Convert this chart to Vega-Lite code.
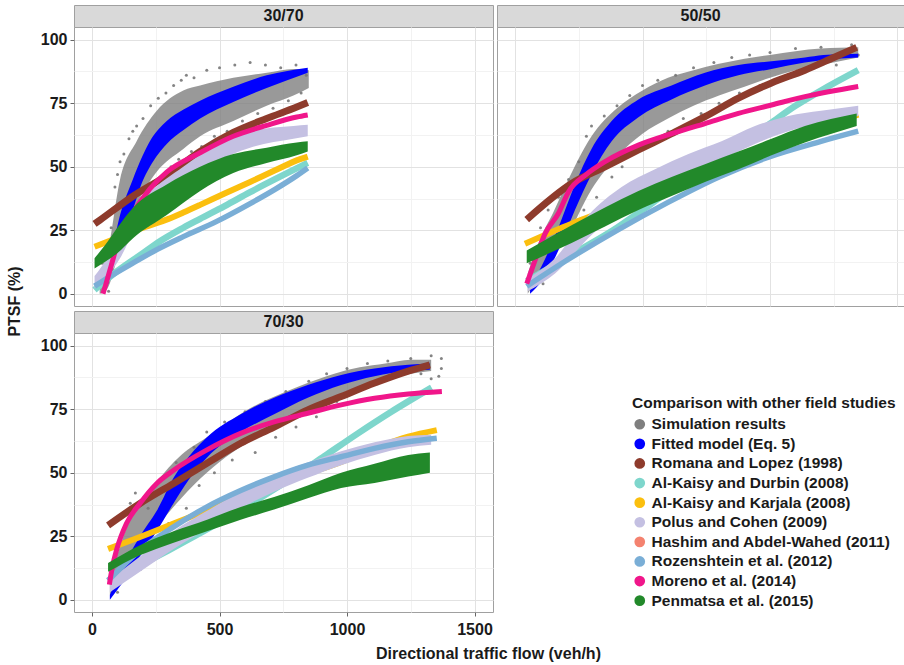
{
"$schema": "https://vega.github.io/schema/vega-lite/v6.json",
"background": "white",
"padding": {"left": 5, "top": 4, "right": 0, "bottom": 0},
"bounds": "flush",
"columns": 2,
"spacing": {"row": 0, "column": 4},
"datasets": {
"A": [
{"p":"30/70","s":"Simulation results","x":30,"lo":0,"hi":8},
{"p":"30/70","s":"Simulation results","x":60,"lo":2,"hi":16},
{"p":"30/70","s":"Simulation results","x":110,"lo":18,"hi":45},
{"p":"30/70","s":"Simulation results","x":175,"lo":35,"hi":60},
{"p":"30/70","s":"Simulation results","x":254,"lo":48,"hi":72},
{"p":"30/70","s":"Simulation results","x":358,"lo":57,"hi":80},
{"p":"30/70","s":"Simulation results","x":424,"lo":62,"hi":82},
{"p":"30/70","s":"Simulation results","x":554,"lo":68,"hi":85},
{"p":"30/70","s":"Simulation results","x":685,"lo":74,"hi":87},
{"p":"30/70","s":"Simulation results","x":790,"lo":78,"hi":88.5},
{"p":"30/70","s":"Simulation results","x":850,"lo":81,"hi":88},
{"p":"30/70","s":"Fitted model (Eq. 5)","x":43,"lo":0,"hi":2},
{"p":"30/70","s":"Fitted model (Eq. 5)","x":60,"lo":3,"hi":10},
{"p":"30/70","s":"Fitted model (Eq. 5)","x":76,"lo":8,"hi":16},
{"p":"30/70","s":"Fitted model (Eq. 5)","x":110,"lo":20,"hi":31},
{"p":"30/70","s":"Fitted model (Eq. 5)","x":160,"lo":33,"hi":45},
{"p":"30/70","s":"Fitted model (Eq. 5)","x":197,"lo":44,"hi":54},
{"p":"30/70","s":"Fitted model (Eq. 5)","x":227,"lo":50,"hi":60},
{"p":"30/70","s":"Fitted model (Eq. 5)","x":293,"lo":59,"hi":68},
{"p":"30/70","s":"Fitted model (Eq. 5)","x":359,"lo":64.5,"hi":72.5},
{"p":"30/70","s":"Fitted model (Eq. 5)","x":424,"lo":69,"hi":76},
{"p":"30/70","s":"Fitted model (Eq. 5)","x":554,"lo":75.5,"hi":81.5},
{"p":"30/70","s":"Fitted model (Eq. 5)","x":685,"lo":81,"hi":86},
{"p":"30/70","s":"Fitted model (Eq. 5)","x":846,"lo":87,"hi":89},
{"p":"30/70","s":"Polus and Cohen (2009)","x":10,"lo":2,"hi":7},
{"p":"30/70","s":"Polus and Cohen (2009)","x":60,"lo":7,"hi":14},
{"p":"30/70","s":"Polus and Cohen (2009)","x":110,"lo":14,"hi":23},
{"p":"30/70","s":"Polus and Cohen (2009)","x":162,"lo":24,"hi":33},
{"p":"30/70","s":"Polus and Cohen (2009)","x":227,"lo":32,"hi":40},
{"p":"30/70","s":"Polus and Cohen (2009)","x":358,"lo":43,"hi":50},
{"p":"30/70","s":"Polus and Cohen (2009)","x":489,"lo":52,"hi":59},
{"p":"30/70","s":"Polus and Cohen (2009)","x":620,"lo":57.5,"hi":64},
{"p":"30/70","s":"Polus and Cohen (2009)","x":790,"lo":61,"hi":66},
{"p":"30/70","s":"Polus and Cohen (2009)","x":846,"lo":62,"hi":66.5},
{"p":"30/70","s":"Penmatsa et al. (2015)","x":10,"lo":10,"hi":14},
{"p":"30/70","s":"Penmatsa et al. (2015)","x":50,"lo":12.5,"hi":19},
{"p":"30/70","s":"Penmatsa et al. (2015)","x":99,"lo":16,"hi":26},
{"p":"30/70","s":"Penmatsa et al. (2015)","x":162,"lo":22,"hi":34},
{"p":"30/70","s":"Penmatsa et al. (2015)","x":293,"lo":31,"hi":43},
{"p":"30/70","s":"Penmatsa et al. (2015)","x":424,"lo":40.5,"hi":50},
{"p":"30/70","s":"Penmatsa et al. (2015)","x":554,"lo":47.5,"hi":55},
{"p":"30/70","s":"Penmatsa et al. (2015)","x":685,"lo":51.5,"hi":57.5},
{"p":"30/70","s":"Penmatsa et al. (2015)","x":803,"lo":54.5,"hi":59.5},
{"p":"30/70","s":"Penmatsa et al. (2015)","x":846,"lo":56,"hi":60},
{"p":"50/50","s":"Simulation results","x":50,"lo":0,"hi":8},
{"p":"50/50","s":"Simulation results","x":100,"lo":8,"hi":22},
{"p":"50/50","s":"Simulation results","x":150,"lo":15,"hi":32},
{"p":"50/50","s":"Simulation results","x":200,"lo":22,"hi":43},
{"p":"50/50","s":"Simulation results","x":300,"lo":41,"hi":62},
{"p":"50/50","s":"Simulation results","x":400,"lo":54,"hi":73},
{"p":"50/50","s":"Simulation results","x":500,"lo":63,"hi":80},
{"p":"50/50","s":"Simulation results","x":600,"lo":69,"hi":85},
{"p":"50/50","s":"Simulation results","x":700,"lo":74,"hi":88},
{"p":"50/50","s":"Simulation results","x":800,"lo":78,"hi":90.5},
{"p":"50/50","s":"Simulation results","x":900,"lo":81.5,"hi":92.5},
{"p":"50/50","s":"Simulation results","x":1000,"lo":85,"hi":94},
{"p":"50/50","s":"Simulation results","x":1100,"lo":88,"hi":95.5},
{"p":"50/50","s":"Simulation results","x":1200,"lo":90,"hi":96.5},
{"p":"50/50","s":"Simulation results","x":1346,"lo":93,"hi":97},
{"p":"50/50","s":"Fitted model (Eq. 5)","x":59,"lo":0,"hi":3},
{"p":"50/50","s":"Fitted model (Eq. 5)","x":105,"lo":5,"hi":11},
{"p":"50/50","s":"Fitted model (Eq. 5)","x":170,"lo":17,"hi":26},
{"p":"50/50","s":"Fitted model (Eq. 5)","x":235,"lo":33,"hi":43},
{"p":"50/50","s":"Fitted model (Eq. 5)","x":300,"lo":47,"hi":57},
{"p":"50/50","s":"Fitted model (Eq. 5)","x":379,"lo":60,"hi":68},
{"p":"50/50","s":"Fitted model (Eq. 5)","x":484,"lo":69.5,"hi":76.5},
{"p":"50/50","s":"Fitted model (Eq. 5)","x":614,"lo":76.5,"hi":82},
{"p":"50/50","s":"Fitted model (Eq. 5)","x":745,"lo":82,"hi":87},
{"p":"50/50","s":"Fitted model (Eq. 5)","x":876,"lo":86,"hi":90},
{"p":"50/50","s":"Fitted model (Eq. 5)","x":1006,"lo":88.5,"hi":91.5},
{"p":"50/50","s":"Fitted model (Eq. 5)","x":1137,"lo":91,"hi":93},
{"p":"50/50","s":"Fitted model (Eq. 5)","x":1209,"lo":92,"hi":94},
{"p":"50/50","s":"Fitted model (Eq. 5)","x":1346,"lo":93,"hi":94.5},
{"p":"50/50","s":"Polus and Cohen (2009)","x":50,"lo":1,"hi":6},
{"p":"50/50","s":"Polus and Cohen (2009)","x":157,"lo":8,"hi":14},
{"p":"50/50","s":"Polus and Cohen (2009)","x":288,"lo":22,"hi":31},
{"p":"50/50","s":"Polus and Cohen (2009)","x":418,"lo":33,"hi":42},
{"p":"50/50","s":"Polus and Cohen (2009)","x":549,"lo":41,"hi":49},
{"p":"50/50","s":"Polus and Cohen (2009)","x":680,"lo":48,"hi":55},
{"p":"50/50","s":"Polus and Cohen (2009)","x":810,"lo":53,"hi":60},
{"p":"50/50","s":"Polus and Cohen (2009)","x":941,"lo":59,"hi":66},
{"p":"50/50","s":"Polus and Cohen (2009)","x":1072,"lo":64,"hi":70},
{"p":"50/50","s":"Polus and Cohen (2009)","x":1200,"lo":67,"hi":72},
{"p":"50/50","s":"Polus and Cohen (2009)","x":1346,"lo":70,"hi":74},
{"p":"50/50","s":"Penmatsa et al. (2015)","x":46,"lo":12,"hi":17},
{"p":"50/50","s":"Penmatsa et al. (2015)","x":222,"lo":20,"hi":27},
{"p":"50/50","s":"Penmatsa et al. (2015)","x":353,"lo":26.5,"hi":34},
{"p":"50/50","s":"Penmatsa et al. (2015)","x":484,"lo":33,"hi":40.5},
{"p":"50/50","s":"Penmatsa et al. (2015)","x":614,"lo":38.5,"hi":46},
{"p":"50/50","s":"Penmatsa et al. (2015)","x":745,"lo":44,"hi":51},
{"p":"50/50","s":"Penmatsa et al. (2015)","x":876,"lo":49,"hi":56},
{"p":"50/50","s":"Penmatsa et al. (2015)","x":1006,"lo":54.5,"hi":61},
{"p":"50/50","s":"Penmatsa et al. (2015)","x":1137,"lo":59.5,"hi":66},
{"p":"50/50","s":"Penmatsa et al. (2015)","x":1340,"lo":66,"hi":71},
{"p":"70/30","s":"Simulation results","x":70,"lo":2,"hi":8},
{"p":"70/30","s":"Simulation results","x":100,"lo":6,"hi":18},
{"p":"70/30","s":"Simulation results","x":150,"lo":14,"hi":32},
{"p":"70/30","s":"Simulation results","x":250,"lo":28,"hi":46},
{"p":"70/30","s":"Simulation results","x":350,"lo":40,"hi":57},
{"p":"70/30","s":"Simulation results","x":450,"lo":50,"hi":64},
{"p":"70/30","s":"Simulation results","x":550,"lo":58,"hi":71},
{"p":"70/30","s":"Simulation results","x":650,"lo":64,"hi":77},
{"p":"70/30","s":"Simulation results","x":750,"lo":70,"hi":81.5},
{"p":"70/30","s":"Simulation results","x":850,"lo":75,"hi":85.5},
{"p":"70/30","s":"Simulation results","x":950,"lo":80,"hi":89},
{"p":"70/30","s":"Simulation results","x":1050,"lo":84,"hi":91.5},
{"p":"70/30","s":"Simulation results","x":1150,"lo":87,"hi":93},
{"p":"70/30","s":"Simulation results","x":1250,"lo":89,"hi":94.5},
{"p":"70/30","s":"Simulation results","x":1330,"lo":90,"hi":94.5},
{"p":"70/30","s":"Fitted model (Eq. 5)","x":70,"lo":0,"hi":2},
{"p":"70/30","s":"Fitted model (Eq. 5)","x":122,"lo":7,"hi":13},
{"p":"70/30","s":"Fitted model (Eq. 5)","x":188,"lo":17,"hi":25},
{"p":"70/30","s":"Fitted model (Eq. 5)","x":254,"lo":27,"hi":35},
{"p":"70/30","s":"Fitted model (Eq. 5)","x":320,"lo":38,"hi":48},
{"p":"70/30","s":"Fitted model (Eq. 5)","x":385,"lo":48,"hi":57},
{"p":"70/30","s":"Fitted model (Eq. 5)","x":451,"lo":56,"hi":64},
{"p":"70/30","s":"Fitted model (Eq. 5)","x":583,"lo":66,"hi":73},
{"p":"70/30","s":"Fitted model (Eq. 5)","x":714,"lo":73,"hi":79.5},
{"p":"70/30","s":"Fitted model (Eq. 5)","x":846,"lo":79.5,"hi":84.5},
{"p":"70/30","s":"Fitted model (Eq. 5)","x":977,"lo":84.5,"hi":88.5},
{"p":"70/30","s":"Fitted model (Eq. 5)","x":1108,"lo":88,"hi":91},
{"p":"70/30","s":"Fitted model (Eq. 5)","x":1240,"lo":90,"hi":92.5},
{"p":"70/30","s":"Fitted model (Eq. 5)","x":1325,"lo":90.5,"hi":93},
{"p":"70/30","s":"Polus and Cohen (2009)","x":70,"lo":3,"hi":8},
{"p":"70/30","s":"Polus and Cohen (2009)","x":188,"lo":11,"hi":17},
{"p":"70/30","s":"Polus and Cohen (2009)","x":320,"lo":20,"hi":27},
{"p":"70/30","s":"Polus and Cohen (2009)","x":451,"lo":28,"hi":35},
{"p":"70/30","s":"Polus and Cohen (2009)","x":583,"lo":36,"hi":42.5},
{"p":"70/30","s":"Polus and Cohen (2009)","x":714,"lo":42.5,"hi":49},
{"p":"70/30","s":"Polus and Cohen (2009)","x":846,"lo":48,"hi":54},
{"p":"70/30","s":"Polus and Cohen (2009)","x":977,"lo":53,"hi":58.5},
{"p":"70/30","s":"Polus and Cohen (2009)","x":1108,"lo":57,"hi":62},
{"p":"70/30","s":"Polus and Cohen (2009)","x":1240,"lo":60,"hi":64.5},
{"p":"70/30","s":"Polus and Cohen (2009)","x":1330,"lo":61,"hi":65},
{"p":"70/30","s":"Penmatsa et al. (2015)","x":63,"lo":11,"hi":14.5},
{"p":"70/30","s":"Penmatsa et al. (2015)","x":188,"lo":17.5,"hi":21.5},
{"p":"70/30","s":"Penmatsa et al. (2015)","x":320,"lo":22.5,"hi":27},
{"p":"70/30","s":"Penmatsa et al. (2015)","x":451,"lo":27,"hi":31.5},
{"p":"70/30","s":"Penmatsa et al. (2015)","x":583,"lo":31.5,"hi":36.5},
{"p":"70/30","s":"Penmatsa et al. (2015)","x":714,"lo":35.5,"hi":40.5},
{"p":"70/30","s":"Penmatsa et al. (2015)","x":846,"lo":40,"hi":45},
{"p":"70/30","s":"Penmatsa et al. (2015)","x":977,"lo":44,"hi":50},
{"p":"70/30","s":"Penmatsa et al. (2015)","x":1108,"lo":46,"hi":53.5},
{"p":"70/30","s":"Penmatsa et al. (2015)","x":1240,"lo":48.5,"hi":57},
{"p":"70/30","s":"Penmatsa et al. (2015)","x":1325,"lo":50,"hi":58}
],
"L": [
{"p":"30/70","s":"Romana and Lopez (1998)","x":10,"y":27.5},
{"p":"30/70","s":"Romana and Lopez (1998)","x":31,"y":29},
{"p":"30/70","s":"Romana and Lopez (1998)","x":162,"y":38.5},
{"p":"30/70","s":"Romana and Lopez (1998)","x":293,"y":46.5},
{"p":"30/70","s":"Romana and Lopez (1998)","x":424,"y":56},
{"p":"30/70","s":"Romana and Lopez (1998)","x":554,"y":63.5},
{"p":"30/70","s":"Romana and Lopez (1998)","x":685,"y":69},
{"p":"30/70","s":"Romana and Lopez (1998)","x":803,"y":73.5},
{"p":"30/70","s":"Romana and Lopez (1998)","x":846,"y":75.3},
{"p":"30/70","s":"Al-Kaisy and Durbin (2008)","x":10,"y":1.5},
{"p":"30/70","s":"Al-Kaisy and Durbin (2008)","x":50,"y":5},
{"p":"30/70","s":"Al-Kaisy and Durbin (2008)","x":100,"y":9},
{"p":"30/70","s":"Al-Kaisy and Durbin (2008)","x":200,"y":16},
{"p":"30/70","s":"Al-Kaisy and Durbin (2008)","x":256,"y":20},
{"p":"30/70","s":"Al-Kaisy and Durbin (2008)","x":358,"y":26},
{"p":"30/70","s":"Al-Kaisy and Durbin (2008)","x":424,"y":29.5},
{"p":"30/70","s":"Al-Kaisy and Durbin (2008)","x":520,"y":34.5},
{"p":"30/70","s":"Al-Kaisy and Durbin (2008)","x":620,"y":40},
{"p":"30/70","s":"Al-Kaisy and Durbin (2008)","x":716,"y":45},
{"p":"30/70","s":"Al-Kaisy and Durbin (2008)","x":846,"y":51.5},
{"p":"30/70","s":"Al-Kaisy and Karjala (2008)","x":10,"y":18.5},
{"p":"30/70","s":"Al-Kaisy and Karjala (2008)","x":100,"y":22},
{"p":"30/70","s":"Al-Kaisy and Karjala (2008)","x":200,"y":26},
{"p":"30/70","s":"Al-Kaisy and Karjala (2008)","x":300,"y":29.5},
{"p":"30/70","s":"Al-Kaisy and Karjala (2008)","x":358,"y":32},
{"p":"30/70","s":"Al-Kaisy and Karjala (2008)","x":424,"y":35},
{"p":"30/70","s":"Al-Kaisy and Karjala (2008)","x":520,"y":39.5},
{"p":"30/70","s":"Al-Kaisy and Karjala (2008)","x":620,"y":44},
{"p":"30/70","s":"Al-Kaisy and Karjala (2008)","x":716,"y":48.5},
{"p":"30/70","s":"Al-Kaisy and Karjala (2008)","x":816,"y":53},
{"p":"30/70","s":"Al-Kaisy and Karjala (2008)","x":846,"y":54},
{"p":"30/70","s":"Rozenshtein et al. (2012)","x":10,"y":3},
{"p":"30/70","s":"Rozenshtein et al. (2012)","x":57,"y":6},
{"p":"30/70","s":"Rozenshtein et al. (2012)","x":150,"y":11.5},
{"p":"30/70","s":"Rozenshtein et al. (2012)","x":256,"y":17.5},
{"p":"30/70","s":"Rozenshtein et al. (2012)","x":358,"y":22.5},
{"p":"30/70","s":"Rozenshtein et al. (2012)","x":489,"y":28.5},
{"p":"30/70","s":"Rozenshtein et al. (2012)","x":620,"y":35.5},
{"p":"30/70","s":"Rozenshtein et al. (2012)","x":716,"y":41},
{"p":"30/70","s":"Rozenshtein et al. (2012)","x":803,"y":46.5},
{"p":"30/70","s":"Rozenshtein et al. (2012)","x":846,"y":49.5},
{"p":"30/70","s":"Moreno et al. (2014)","x":43,"y":0},
{"p":"30/70","s":"Moreno et al. (2014)","x":55,"y":4},
{"p":"30/70","s":"Moreno et al. (2014)","x":75,"y":11},
{"p":"30/70","s":"Moreno et al. (2014)","x":110,"y":23},
{"p":"30/70","s":"Moreno et al. (2014)","x":162,"y":32.2},
{"p":"30/70","s":"Moreno et al. (2014)","x":227,"y":41.3},
{"p":"30/70","s":"Moreno et al. (2014)","x":293,"y":47.9},
{"p":"30/70","s":"Moreno et al. (2014)","x":424,"y":55.5},
{"p":"30/70","s":"Moreno et al. (2014)","x":554,"y":62},
{"p":"30/70","s":"Moreno et al. (2014)","x":685,"y":66.3},
{"p":"30/70","s":"Moreno et al. (2014)","x":803,"y":69.6},
{"p":"30/70","s":"Moreno et al. (2014)","x":846,"y":70.4},
{"p":"50/50","s":"Romana and Lopez (1998)","x":46,"y":29.2},
{"p":"50/50","s":"Romana and Lopez (1998)","x":222,"y":43.4},
{"p":"50/50","s":"Romana and Lopez (1998)","x":353,"y":50},
{"p":"50/50","s":"Romana and Lopez (1998)","x":484,"y":56.6},
{"p":"50/50","s":"Romana and Lopez (1998)","x":614,"y":63},
{"p":"50/50","s":"Romana and Lopez (1998)","x":745,"y":69.7},
{"p":"50/50","s":"Romana and Lopez (1998)","x":876,"y":77},
{"p":"50/50","s":"Romana and Lopez (1998)","x":1006,"y":83},
{"p":"50/50","s":"Romana and Lopez (1998)","x":1137,"y":88},
{"p":"50/50","s":"Romana and Lopez (1998)","x":1250,"y":93},
{"p":"50/50","s":"Romana and Lopez (1998)","x":1340,"y":97},
{"p":"50/50","s":"Al-Kaisy and Durbin (2008)","x":46,"y":5},
{"p":"50/50","s":"Al-Kaisy and Durbin (2008)","x":150,"y":11},
{"p":"50/50","s":"Al-Kaisy and Durbin (2008)","x":250,"y":17},
{"p":"50/50","s":"Al-Kaisy and Durbin (2008)","x":400,"y":26},
{"p":"50/50","s":"Al-Kaisy and Durbin (2008)","x":500,"y":33},
{"p":"50/50","s":"Al-Kaisy and Durbin (2008)","x":600,"y":40},
{"p":"50/50","s":"Al-Kaisy and Durbin (2008)","x":700,"y":46.5},
{"p":"50/50","s":"Al-Kaisy and Durbin (2008)","x":800,"y":53},
{"p":"50/50","s":"Al-Kaisy and Durbin (2008)","x":900,"y":60},
{"p":"50/50","s":"Al-Kaisy and Durbin (2008)","x":1000,"y":67},
{"p":"50/50","s":"Al-Kaisy and Durbin (2008)","x":1100,"y":74},
{"p":"50/50","s":"Al-Kaisy and Durbin (2008)","x":1200,"y":80},
{"p":"50/50","s":"Al-Kaisy and Durbin (2008)","x":1346,"y":88},
{"p":"50/50","s":"Al-Kaisy and Karjala (2008)","x":39,"y":19.7},
{"p":"50/50","s":"Al-Kaisy and Karjala (2008)","x":222,"y":27.6},
{"p":"50/50","s":"Al-Kaisy and Karjala (2008)","x":274,"y":29.6},
{"p":"50/50","s":"Al-Kaisy and Karjala (2008)","x":614,"y":43.4},
{"p":"50/50","s":"Al-Kaisy and Karjala (2008)","x":876,"y":54},
{"p":"50/50","s":"Al-Kaisy and Karjala (2008)","x":1100,"y":62},
{"p":"50/50","s":"Al-Kaisy and Karjala (2008)","x":1346,"y":70.5},
{"p":"50/50","s":"Rozenshtein et al. (2012)","x":46,"y":3},
{"p":"50/50","s":"Rozenshtein et al. (2012)","x":200,"y":13},
{"p":"50/50","s":"Rozenshtein et al. (2012)","x":400,"y":25},
{"p":"50/50","s":"Rozenshtein et al. (2012)","x":600,"y":36},
{"p":"50/50","s":"Rozenshtein et al. (2012)","x":800,"y":46},
{"p":"50/50","s":"Rozenshtein et al. (2012)","x":1000,"y":54},
{"p":"50/50","s":"Rozenshtein et al. (2012)","x":1200,"y":60},
{"p":"50/50","s":"Rozenshtein et al. (2012)","x":1346,"y":64},
{"p":"50/50","s":"Moreno et al. (2014)","x":46,"y":4},
{"p":"50/50","s":"Moreno et al. (2014)","x":78,"y":13},
{"p":"50/50","s":"Moreno et al. (2014)","x":118,"y":23.7},
{"p":"50/50","s":"Moreno et al. (2014)","x":170,"y":31.6},
{"p":"50/50","s":"Moreno et al. (2014)","x":209,"y":40},
{"p":"50/50","s":"Moreno et al. (2014)","x":280,"y":47},
{"p":"50/50","s":"Moreno et al. (2014)","x":353,"y":52},
{"p":"50/50","s":"Moreno et al. (2014)","x":484,"y":58.5},
{"p":"50/50","s":"Moreno et al. (2014)","x":614,"y":63},
{"p":"50/50","s":"Moreno et al. (2014)","x":745,"y":67},
{"p":"50/50","s":"Moreno et al. (2014)","x":876,"y":71},
{"p":"50/50","s":"Moreno et al. (2014)","x":1006,"y":74.3},
{"p":"50/50","s":"Moreno et al. (2014)","x":1137,"y":77.6},
{"p":"50/50","s":"Moreno et al. (2014)","x":1346,"y":81.6},
{"p":"70/30","s":"Romana and Lopez (1998)","x":63,"y":29.3},
{"p":"70/30","s":"Romana and Lopez (1998)","x":188,"y":37.9},
{"p":"70/30","s":"Romana and Lopez (1998)","x":320,"y":45.8},
{"p":"70/30","s":"Romana and Lopez (1998)","x":451,"y":53.7},
{"p":"70/30","s":"Romana and Lopez (1998)","x":583,"y":61.6},
{"p":"70/30","s":"Romana and Lopez (1998)","x":714,"y":68},
{"p":"70/30","s":"Romana and Lopez (1998)","x":846,"y":74.7},
{"p":"70/30","s":"Romana and Lopez (1998)","x":977,"y":80},
{"p":"70/30","s":"Romana and Lopez (1998)","x":1108,"y":85.3},
{"p":"70/30","s":"Romana and Lopez (1998)","x":1240,"y":90},
{"p":"70/30","s":"Romana and Lopez (1998)","x":1325,"y":92.5},
{"p":"70/30","s":"Al-Kaisy and Durbin (2008)","x":63,"y":7.5},
{"p":"70/30","s":"Al-Kaisy and Durbin (2008)","x":300,"y":19.5},
{"p":"70/30","s":"Al-Kaisy and Durbin (2008)","x":500,"y":30.5},
{"p":"70/30","s":"Al-Kaisy and Durbin (2008)","x":650,"y":39.5},
{"p":"70/30","s":"Al-Kaisy and Durbin (2008)","x":793,"y":48.5},
{"p":"70/30","s":"Al-Kaisy and Durbin (2008)","x":911,"y":56.5},
{"p":"70/30","s":"Al-Kaisy and Durbin (2008)","x":1043,"y":65.5},
{"p":"70/30","s":"Al-Kaisy and Durbin (2008)","x":1174,"y":74},
{"p":"70/30","s":"Al-Kaisy and Durbin (2008)","x":1332,"y":83.5},
{"p":"70/30","s":"Al-Kaisy and Karjala (2008)","x":63,"y":20},
{"p":"70/30","s":"Al-Kaisy and Karjala (2008)","x":188,"y":24.7},
{"p":"70/30","s":"Al-Kaisy and Karjala (2008)","x":320,"y":30},
{"p":"70/30","s":"Al-Kaisy and Karjala (2008)","x":451,"y":35.3},
{"p":"70/30","s":"Al-Kaisy and Karjala (2008)","x":583,"y":40.5},
{"p":"70/30","s":"Al-Kaisy and Karjala (2008)","x":714,"y":45},
{"p":"70/30","s":"Al-Kaisy and Karjala (2008)","x":846,"y":49.7},
{"p":"70/30","s":"Al-Kaisy and Karjala (2008)","x":977,"y":54.3},
{"p":"70/30","s":"Al-Kaisy and Karjala (2008)","x":1108,"y":59.6},
{"p":"70/30","s":"Al-Kaisy and Karjala (2008)","x":1240,"y":64.2},
{"p":"70/30","s":"Al-Kaisy and Karjala (2008)","x":1352,"y":66.8},
{"p":"70/30","s":"Rozenshtein et al. (2012)","x":63,"y":7.6},
{"p":"70/30","s":"Rozenshtein et al. (2012)","x":188,"y":19.5},
{"p":"70/30","s":"Rozenshtein et al. (2012)","x":320,"y":28.7},
{"p":"70/30","s":"Rozenshtein et al. (2012)","x":451,"y":36.6},
{"p":"70/30","s":"Rozenshtein et al. (2012)","x":583,"y":43},
{"p":"70/30","s":"Rozenshtein et al. (2012)","x":714,"y":48.4},
{"p":"70/30","s":"Rozenshtein et al. (2012)","x":846,"y":53},
{"p":"70/30","s":"Rozenshtein et al. (2012)","x":977,"y":56.3},
{"p":"70/30","s":"Rozenshtein et al. (2012)","x":1108,"y":59.6},
{"p":"70/30","s":"Rozenshtein et al. (2012)","x":1240,"y":62.2},
{"p":"70/30","s":"Rozenshtein et al. (2012)","x":1352,"y":63.6},
{"p":"70/30","s":"Moreno et al. (2014)","x":68,"y":6},
{"p":"70/30","s":"Moreno et al. (2014)","x":80,"y":13},
{"p":"70/30","s":"Moreno et al. (2014)","x":96,"y":19.5},
{"p":"70/30","s":"Moreno et al. (2014)","x":135,"y":30},
{"p":"70/30","s":"Moreno et al. (2014)","x":188,"y":37.9},
{"p":"70/30","s":"Moreno et al. (2014)","x":254,"y":45.8},
{"p":"70/30","s":"Moreno et al. (2014)","x":320,"y":51},
{"p":"70/30","s":"Moreno et al. (2014)","x":451,"y":59},
{"p":"70/30","s":"Moreno et al. (2014)","x":583,"y":65.5},
{"p":"70/30","s":"Moreno et al. (2014)","x":714,"y":70},
{"p":"70/30","s":"Moreno et al. (2014)","x":846,"y":73.4},
{"p":"70/30","s":"Moreno et al. (2014)","x":977,"y":76.7},
{"p":"70/30","s":"Moreno et al. (2014)","x":1108,"y":79.3},
{"p":"70/30","s":"Moreno et al. (2014)","x":1240,"y":81},
{"p":"70/30","s":"Moreno et al. (2014)","x":1372,"y":82}
],
"G": [
{"p":"30/70","x":30,"y":3},{"p":"30/70","x":45,"y":10},{"p":"30/70","x":65,"y":1},{"p":"30/70","x":40,"y":12},{"p":"30/70","x":55,"y":20},{"p":"30/70","x":75,"y":26},{"p":"30/70","x":90,"y":42},{"p":"30/70","x":100,"y":47},{"p":"30/70","x":110,"y":52},{"p":"30/70","x":125,"y":55},{"p":"30/70","x":130,"y":22},{"p":"30/70","x":145,"y":61},{"p":"30/70","x":160,"y":64},{"p":"30/70","x":175,"y":66},{"p":"30/70","x":185,"y":31},{"p":"30/70","x":200,"y":69},{"p":"30/70","x":210,"y":36},{"p":"30/70","x":230,"y":74},{"p":"30/70","x":240,"y":44},{"p":"30/70","x":260,"y":77},{"p":"30/70","x":275,"y":46},{"p":"30/70","x":290,"y":79},{"p":"30/70","x":310,"y":50},{"p":"30/70","x":320,"y":82},{"p":"30/70","x":340,"y":53},{"p":"30/70","x":350,"y":84},{"p":"30/70","x":370,"y":86},{"p":"30/70","x":390,"y":56},{"p":"30/70","x":400,"y":85},{"p":"30/70","x":430,"y":58},{"p":"30/70","x":450,"y":88},{"p":"30/70","x":480,"y":62},{"p":"30/70","x":500,"y":89},{"p":"30/70","x":530,"y":64},{"p":"30/70","x":560,"y":90},{"p":"30/70","x":590,"y":68},{"p":"30/70","x":620,"y":91},{"p":"30/70","x":650,"y":71},{"p":"30/70","x":680,"y":90},{"p":"30/70","x":710,"y":73},{"p":"30/70","x":740,"y":89},{"p":"30/70","x":770,"y":76},{"p":"30/70","x":800,"y":90},{"p":"30/70","x":820,"y":79},{"p":"30/70","x":840,"y":86},
{"p":"50/50","x":60,"y":12},{"p":"50/50","x":80,"y":18},{"p":"50/50","x":100,"y":26},{"p":"50/50","x":110,"y":4},{"p":"50/50","x":130,"y":33},{"p":"50/50","x":150,"y":10},{"p":"50/50","x":170,"y":38},{"p":"50/50","x":190,"y":16},{"p":"50/50","x":210,"y":45},{"p":"50/50","x":230,"y":26},{"p":"50/50","x":250,"y":52},{"p":"50/50","x":270,"y":33},{"p":"50/50","x":280,"y":62},{"p":"50/50","x":300,"y":66},{"p":"50/50","x":320,"y":38},{"p":"50/50","x":350,"y":70},{"p":"50/50","x":380,"y":46},{"p":"50/50","x":400,"y":74},{"p":"50/50","x":420,"y":50},{"p":"50/50","x":450,"y":78},{"p":"50/50","x":480,"y":56},{"p":"50/50","x":500,"y":82},{"p":"50/50","x":530,"y":60},{"p":"50/50","x":560,"y":84},{"p":"50/50","x":600,"y":64},{"p":"50/50","x":630,"y":86},{"p":"50/50","x":660,"y":69},{"p":"50/50","x":700,"y":89},{"p":"50/50","x":730,"y":71},{"p":"50/50","x":780,"y":91},{"p":"50/50","x":800,"y":75},{"p":"50/50","x":850,"y":93},{"p":"50/50","x":880,"y":79},{"p":"50/50","x":920,"y":94},{"p":"50/50","x":960,"y":82},{"p":"50/50","x":1000,"y":95},{"p":"50/50","x":1050,"y":85},{"p":"50/50","x":1100,"y":96.5},{"p":"50/50","x":1150,"y":88},{"p":"50/50","x":1200,"y":97},{"p":"50/50","x":1260,"y":90},{"p":"50/50","x":1320,"y":98},{"p":"50/50","x":1346,"y":94},
{"p":"70/30","x":80,"y":10},{"p":"70/30","x":100,"y":3},{"p":"70/30","x":120,"y":22},{"p":"70/30","x":150,"y":38},{"p":"70/30","x":170,"y":42},{"p":"70/30","x":190,"y":12},{"p":"70/30","x":220,"y":36},{"p":"70/30","x":250,"y":20},{"p":"70/30","x":280,"y":48},{"p":"70/30","x":300,"y":30},{"p":"70/30","x":330,"y":54},{"p":"70/30","x":370,"y":36},{"p":"70/30","x":400,"y":60},{"p":"70/30","x":420,"y":45},{"p":"70/30","x":450,"y":66},{"p":"70/30","x":480,"y":50},{"p":"70/30","x":520,"y":70},{"p":"70/30","x":550,"y":55},{"p":"70/30","x":600,"y":74},{"p":"70/30","x":640,"y":58},{"p":"70/30","x":680,"y":78},{"p":"70/30","x":720,"y":64},{"p":"70/30","x":760,"y":82},{"p":"70/30","x":800,"y":68},{"p":"70/30","x":850,"y":86},{"p":"70/30","x":880,"y":72},{"p":"70/30","x":920,"y":89},{"p":"70/30","x":960,"y":78},{"p":"70/30","x":1000,"y":91},{"p":"70/30","x":1040,"y":82},{"p":"70/30","x":1080,"y":93},{"p":"70/30","x":1120,"y":85},{"p":"70/30","x":1160,"y":94},{"p":"70/30","x":1200,"y":88},{"p":"70/30","x":1250,"y":95},{"p":"70/30","x":1290,"y":89},{"p":"70/30","x":1330,"y":96},{"p":"70/30","x":1370,"y":95},{"p":"70/30","x":1360,"y":88},{"p":"70/30","x":1370,"y":91},{"p":"70/30","x":1330,"y":87}
]
},
"concat": [
  {"width": 419, "height": 22, "data": {"values": [{"t": "30/70"}]}, "mark": {"type": "text", "fontSize": 16, "fontWeight": "bold", "color": "#1a1a1a"}, "encoding": {"text": {"field": "t"}}, "view": {"fill": "#d9d9d9", "stroke": "#a0a0a0"}},
  {"width": 407, "height": 22, "data": {"values": [{"t": "50/50"}]}, "mark": {"type": "text", "fontSize": 16, "fontWeight": "bold", "color": "#1a1a1a"}, "encoding": {"text": {"field": "t"}}, "view": {"fill": "#d9d9d9", "stroke": "#a0a0a0"}},
  {"width": 419, "height": 279,
   "encoding": {
    "x": {"field": "x", "type": "quantitative", "scale": {"domain": [-70.6, 1572.5], "nice": false, "zero": false}, "axis": {"values": [0,250,500,750,1000,1250,1500], "labels": false, "ticks": false, "domain": false, "title": null, "gridColor": {"condition": {"test": "datum.value % 500 === 0", "value": "#e2e2e2"}, "value": "#f2f2f2"}}},
    "y": {"type": "quantitative", "scale": {"domain": [-4.8, 105], "nice": false, "zero": false}, "axis": {"values": [0,12.5,25,37.5,50,62.5,75,87.5,100], "labelExpr": "datum.value % 25 === 0 ? datum.label : ''", "tickOpacity": {"condition": {"test": "datum.value % 25 === 0", "value": 1}, "value": 0}, "domain": false, "title": "PTSF (%)", "titleX": -52, "titleY": 274, "gridColor": {"condition": {"test": "datum.value % 25 === 0", "value": "#e2e2e2"}, "value": "#f2f2f2"}}}
   },
   "layer": [
    {"data": {"name": "A"}, "transform": [{"filter": {"field": "p", "equal": "30/70"}}, {"filter": {"field": "s", "equal": "Simulation results"}}], "mark": {"type": "area", "interpolate": "monotone", "opacity": 0.8}, "encoding": {"y": {"field": "lo"}, "y2": {"field": "hi"}, "color": {"field": "s", "type": "nominal", "scale": {"domain": ["Simulation results","Fitted model (Eq. 5)","Romana and Lopez (1998)","Al-Kaisy and Durbin (2008)","Al-Kaisy and Karjala (2008)","Polus and Cohen (2009)","Hashim and Abdel-Wahed (2011)","Rozenshtein et al. (2012)","Moreno et al. (2014)","Penmatsa et al. (2015)"], "range": ["#7f7f7f","#0000ff","#8e3b2c","#7ed6cc","#fbbf0e","#c4c0e2","#f4826f","#7aaed6","#f0168a","#22892a"]}}}},
    {"data": {"name": "G"}, "transform": [{"filter": {"field": "p", "equal": "30/70"}}], "mark": {"type": "circle", "size": 9, "color": "#777777", "opacity": 0.9}, "encoding": {"y": {"field": "y"}}},
    {"data": {"name": "A"}, "transform": [{"filter": {"field": "p", "equal": "30/70"}}, {"filter": {"field": "s", "equal": "Fitted model (Eq. 5)"}}], "mark": {"type": "area", "interpolate": "monotone"}, "encoding": {"y": {"field": "lo"}, "y2": {"field": "hi"}, "color": {"field": "s", "type": "nominal"}}},
    {"data": {"name": "L"}, "transform": [{"filter": {"field": "p", "equal": "30/70"}}, {"filter": {"field": "s", "oneOf": ["Romana and Lopez (1998)","Al-Kaisy and Durbin (2008)","Al-Kaisy and Karjala (2008)"]}}], "mark": {"type": "line", "interpolate": "monotone"}, "encoding": {"y": {"field": "y"}, "color": {"field": "s", "type": "nominal"}, "strokeWidth": {"field": "s", "type": "nominal", "scale": {"domain": ["Romana and Lopez (1998)","Al-Kaisy and Durbin (2008)","Al-Kaisy and Karjala (2008)","Rozenshtein et al. (2012)","Moreno et al. (2014)"], "range": [7,5,4,2.5,3]}, "legend": null}}},
    {"data": {"name": "A"}, "transform": [{"filter": {"field": "p", "equal": "30/70"}}, {"filter": {"field": "s", "equal": "Polus and Cohen (2009)"}}], "mark": {"type": "area", "interpolate": "monotone"}, "encoding": {"y": {"field": "lo"}, "y2": {"field": "hi"}, "color": {"field": "s", "type": "nominal"}}},
    {"data": {"name": "L"}, "transform": [{"filter": {"field": "p", "equal": "30/70"}}, {"filter": {"field": "s", "oneOf": ["Rozenshtein et al. (2012)","Moreno et al. (2014)"]}}], "mark": {"type": "line", "interpolate": "monotone"}, "encoding": {"y": {"field": "y"}, "color": {"field": "s", "type": "nominal"}, "strokeWidth": {"field": "s", "type": "nominal", "legend": null}}},
    {"data": {"name": "A"}, "transform": [{"filter": {"field": "p", "equal": "30/70"}}, {"filter": {"field": "s", "equal": "Penmatsa et al. (2015)"}}], "mark": {"type": "area", "interpolate": "monotone"}, "encoding": {"y": {"field": "lo"}, "y2": {"field": "hi"}, "color": {"field": "s", "type": "nominal"}}}
   ]
  },
  {"width": 407, "height": 279,
   "encoding": {
    "x": {"field": "x", "type": "quantitative", "scale": {"domain": [-70.6, 1525.5], "nice": false, "zero": false}, "axis": {"values": [0,250,500,750,1000,1250,1500], "labels": false, "ticks": false, "domain": false, "title": null, "gridColor": {"condition": {"test": "datum.value % 500 === 0", "value": "#e2e2e2"}, "value": "#f2f2f2"}}},
    "y": {"type": "quantitative", "scale": {"domain": [-4.8, 105], "nice": false, "zero": false}, "axis": {"values": [0,12.5,25,37.5,50,62.5,75,87.5,100], "labels": false, "ticks": false, "domain": false, "title": null, "gridColor": {"condition": {"test": "datum.value % 25 === 0", "value": "#e2e2e2"}, "value": "#f2f2f2"}}}
   },
   "layer": [
    {"data": {"name": "A"}, "transform": [{"filter": {"field": "p", "equal": "50/50"}}, {"filter": {"field": "s", "equal": "Simulation results"}}], "mark": {"type": "area", "interpolate": "monotone", "opacity": 0.8}, "encoding": {"y": {"field": "lo"}, "y2": {"field": "hi"}, "color": {"field": "s", "type": "nominal"}}},
    {"data": {"name": "G"}, "transform": [{"filter": {"field": "p", "equal": "50/50"}}], "mark": {"type": "circle", "size": 9, "color": "#777777", "opacity": 0.9}, "encoding": {"y": {"field": "y"}}},
    {"data": {"name": "A"}, "transform": [{"filter": {"field": "p", "equal": "50/50"}}, {"filter": {"field": "s", "equal": "Fitted model (Eq. 5)"}}], "mark": {"type": "area", "interpolate": "monotone"}, "encoding": {"y": {"field": "lo"}, "y2": {"field": "hi"}, "color": {"field": "s", "type": "nominal"}}},
    {"data": {"name": "L"}, "transform": [{"filter": {"field": "p", "equal": "50/50"}}, {"filter": {"field": "s", "oneOf": ["Romana and Lopez (1998)","Al-Kaisy and Durbin (2008)","Al-Kaisy and Karjala (2008)"]}}], "mark": {"type": "line", "interpolate": "monotone"}, "encoding": {"y": {"field": "y"}, "color": {"field": "s", "type": "nominal"}, "strokeWidth": {"field": "s", "type": "nominal", "legend": null}}},
    {"data": {"name": "A"}, "transform": [{"filter": {"field": "p", "equal": "50/50"}}, {"filter": {"field": "s", "equal": "Polus and Cohen (2009)"}}], "mark": {"type": "area", "interpolate": "monotone"}, "encoding": {"y": {"field": "lo"}, "y2": {"field": "hi"}, "color": {"field": "s", "type": "nominal"}}},
    {"data": {"name": "L"}, "transform": [{"filter": {"field": "p", "equal": "50/50"}}, {"filter": {"field": "s", "oneOf": ["Rozenshtein et al. (2012)","Moreno et al. (2014)"]}}], "mark": {"type": "line", "interpolate": "monotone"}, "encoding": {"y": {"field": "y"}, "color": {"field": "s", "type": "nominal"}, "strokeWidth": {"field": "s", "type": "nominal", "legend": null}}},
    {"data": {"name": "A"}, "transform": [{"filter": {"field": "p", "equal": "50/50"}}, {"filter": {"field": "s", "equal": "Penmatsa et al. (2015)"}}], "mark": {"type": "area", "interpolate": "monotone"}, "encoding": {"y": {"field": "lo"}, "y2": {"field": "hi"}, "color": {"field": "s", "type": "nominal"}}}
   ]
  },
  {"width": 419, "height": 5, "data": {"values": [{}]}, "mark": {"type": "text"}, "encoding": {}, "view": {"stroke": null}},
  {"width": 407, "height": 5, "data": {"values": [{}]}, "mark": {"type": "text"}, "encoding": {}, "view": {"stroke": null}},
  {"width": 419, "height": 22, "data": {"values": [{"t": "70/30"}]}, "mark": {"type": "text", "fontSize": 16, "fontWeight": "bold", "color": "#1a1a1a"}, "encoding": {"text": {"field": "t"}}, "view": {"fill": "#d9d9d9", "stroke": "#a0a0a0"}},
  {"width": 407, "height": 22, "data": {"values": [{}]}, "mark": {"type": "text"}, "encoding": {}, "view": {"stroke": null}},
  {"width": 419, "height": 279,
   "encoding": {
    "x": {"field": "x", "type": "quantitative", "scale": {"domain": [-70.6, 1572.5], "nice": false, "zero": false}, "axis": {"values": [0,250,500,750,1000,1250,1500], "format": "d", "labelExpr": "datum.value % 500 === 0 ? datum.label : ''", "tickOpacity": {"condition": {"test": "datum.value % 500 === 0", "value": 1}, "value": 0}, "domain": false, "labelPadding": 5, "title": "Directional traffic flow (veh/h)", "titleX": 414, "titlePadding": 8, "gridColor": {"condition": {"test": "datum.value % 500 === 0", "value": "#e2e2e2"}, "value": "#f2f2f2"}}},
    "y": {"type": "quantitative", "scale": {"domain": [-4.8, 105], "nice": false, "zero": false}, "axis": {"values": [0,12.5,25,37.5,50,62.5,75,87.5,100], "labelExpr": "datum.value % 25 === 0 ? datum.label : ''", "tickOpacity": {"condition": {"test": "datum.value % 25 === 0", "value": 1}, "value": 0}, "domain": false, "title": null, "gridColor": {"condition": {"test": "datum.value % 25 === 0", "value": "#e2e2e2"}, "value": "#f2f2f2"}}}
   },
   "layer": [
    {"data": {"name": "A"}, "transform": [{"filter": {"field": "p", "equal": "70/30"}}, {"filter": {"field": "s", "equal": "Simulation results"}}], "mark": {"type": "area", "interpolate": "monotone", "opacity": 0.8}, "encoding": {"y": {"field": "lo"}, "y2": {"field": "hi"}, "color": {"field": "s", "type": "nominal"}}},
    {"data": {"name": "G"}, "transform": [{"filter": {"field": "p", "equal": "70/30"}}], "mark": {"type": "circle", "size": 9, "color": "#777777", "opacity": 0.9}, "encoding": {"y": {"field": "y"}}},
    {"data": {"name": "A"}, "transform": [{"filter": {"field": "p", "equal": "70/30"}}, {"filter": {"field": "s", "equal": "Fitted model (Eq. 5)"}}], "mark": {"type": "area", "interpolate": "monotone"}, "encoding": {"y": {"field": "lo"}, "y2": {"field": "hi"}, "color": {"field": "s", "type": "nominal", "legend": {"orient": "none", "legendX": 558, "legendY": 391, "title": "Comparison with other field studies", "titleFontSize": 15.5, "titleFontWeight": "bold", "titleColor": "#1a1a1a", "titleLimit": 400, "labelFontSize": 15.5, "labelFontWeight": "bold", "labelColor": "#1a1a1a", "symbolType": "circle", "symbolSize": 115, "symbolStrokeWidth": 0, "symbolOpacity": 1, "rowPadding": 2.6, "titlePadding": 5, "labelOffset": 4, "labelLimit": 400, "encode": {"symbols": {"update": {"opacity": {"value": 1}, "fillOpacity": {"value": 1}}}}}}}},
    {"data": {"name": "L"}, "transform": [{"filter": {"field": "p", "equal": "70/30"}}, {"filter": {"field": "s", "oneOf": ["Romana and Lopez (1998)","Al-Kaisy and Durbin (2008)","Al-Kaisy and Karjala (2008)"]}}], "mark": {"type": "line", "interpolate": "monotone"}, "encoding": {"y": {"field": "y"}, "color": {"field": "s", "type": "nominal"}, "strokeWidth": {"field": "s", "type": "nominal", "legend": null}}},
    {"data": {"name": "A"}, "transform": [{"filter": {"field": "p", "equal": "70/30"}}, {"filter": {"field": "s", "equal": "Polus and Cohen (2009)"}}], "mark": {"type": "area", "interpolate": "monotone"}, "encoding": {"y": {"field": "lo"}, "y2": {"field": "hi"}, "color": {"field": "s", "type": "nominal"}}},
    {"data": {"name": "L"}, "transform": [{"filter": {"field": "p", "equal": "70/30"}}, {"filter": {"field": "s", "oneOf": ["Rozenshtein et al. (2012)","Moreno et al. (2014)"]}}], "mark": {"type": "line", "interpolate": "monotone"}, "encoding": {"y": {"field": "y"}, "color": {"field": "s", "type": "nominal"}, "strokeWidth": {"field": "s", "type": "nominal", "legend": null}}},
    {"data": {"name": "A"}, "transform": [{"filter": {"field": "p", "equal": "70/30"}}, {"filter": {"field": "s", "equal": "Penmatsa et al. (2015)"}}], "mark": {"type": "area", "interpolate": "monotone"}, "encoding": {"y": {"field": "lo"}, "y2": {"field": "hi"}, "color": {"field": "s", "type": "nominal"}}}
   ]
  }
],
"config": {
 "font": "Liberation Sans",
 "view": {"stroke": "#a0a0a0", "strokeWidth": 1},
 "axis": {"labelFontSize": 16, "labelFontWeight": "bold", "labelColor": "#1a1a1a", "titleFontSize": 16, "titleFontWeight": "bold", "titleColor": "#1a1a1a", "tickColor": "#666666", "tickSize": 4, "labelPadding": 3, "labelOverlap": false},
 "legend": {"labelFont": "Liberation Sans", "titleFont": "Liberation Sans"}
}
}
